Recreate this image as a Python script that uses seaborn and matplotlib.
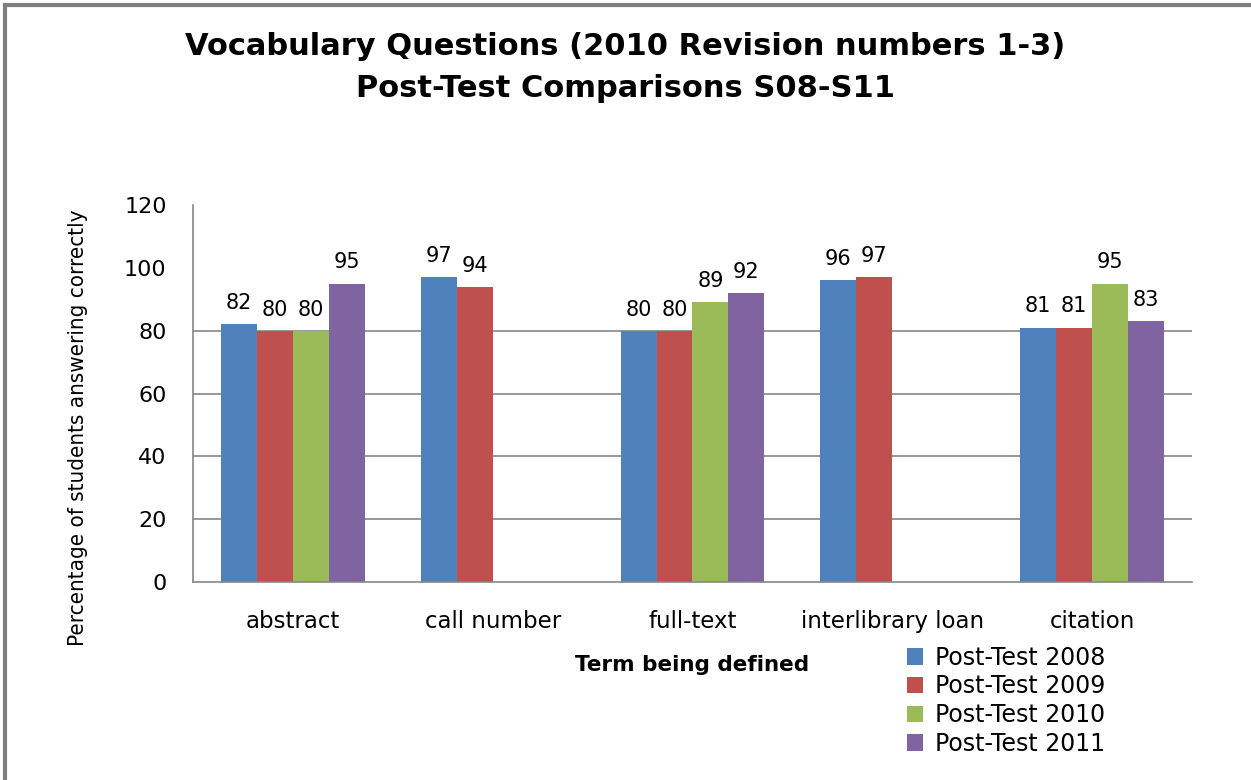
import matplotlib
matplotlib.use("Agg")
import matplotlib.pyplot as plt
import seaborn as sns
import numpy as np
import pandas as pd
from matplotlib.patches import Rectangle

categories = ["abstract", "call number", "full-text", "interlibrary loan", "citation"]
series_names = ["Post-Test 2008", "Post-Test 2009", "Post-Test 2010", "Post-Test 2011"]
v2008 = [82, 97, 80, 96, 81]
v2009 = [80, 94, 80, 97, 81]
v2010 = [80, np.nan, 89, np.nan, 95]
v2011 = [95, np.nan, 92, np.nan, 83]
yticks = [0, 20, 40, 60, 80, 100, 120]
grid_levels = [20, 40, 60, 80]
colors = ["#4F81BD", "#C0504D", "#9BBB59", "#8064A2"]

rows = []
for name, vals in zip(series_names, [v2008, v2009, v2010, v2011]):
    for c, v in zip(categories, vals):
        rows.append({"term": c, "series": name, "value": v})
df = pd.DataFrame(rows)

sns.set_style("white")
plt.rcParams["font.family"] = ["DejaVu Sans"]
plt.rcParams["text.color"] = "black"
plt.rcParams["axes.labelcolor"] = "black"
plt.rcParams["xtick.color"] = "black"
plt.rcParams["ytick.color"] = "black"

fig = plt.figure(figsize=(12.51, 7.8), dpi=100)
ax = fig.add_axes([0.1543, 0.2538, 0.9528 - 0.1543, 0.7372 - 0.2538])

gridc = "#868686"
for g in grid_levels:
    ax.axhline(g, color=gridc, linewidth=1.2, zorder=0)

sns.barplot(data=df, x="term", y="value", hue="series", order=categories,
            hue_order=series_names, palette=colors, width=0.72, ax=ax,
            saturation=1, errorbar=None, linewidth=0, zorder=2)

for cont in ax.containers:
    ax.bar_label(cont, fmt="%.0f", padding=8, fontsize=15, color="black")

ax.set_ylim(0, 120)
ax.set_yticks(yticks)
ax.set_xlim(-0.5, 4.5)
ax.grid(False)
for s in ["top", "right"]:
    ax.spines[s].set_visible(False)
for s in ["left", "bottom"]:
    ax.spines[s].set_color(gridc)
    ax.spines[s].set_linewidth(1.2)
ax.tick_params(axis="y", length=9, width=1.2, color=gridc, labelsize=16, pad=10,
               labelcolor="black")
for t in ax.yaxis.get_major_ticks():
    if t.get_loc() > 80:
        t.tick1line.set_visible(False)
ax.tick_params(axis="x", length=0, labelsize=16.5, pad=20, labelcolor="black")
ax.set_xlabel("Term being defined", fontsize=15.5, fontweight="bold", labelpad=16)
ax.set_ylabel("Percentage of students answering correctly", fontsize=16,
              family="DejaVu Sans", fontstretch="condensed")
ax.yaxis.label.set_va("center")
ax.yaxis.set_label_coords(-0.115, 0.408)

handles, labels = ax.get_legend_handles_labels()
ax.legend(handles, labels, loc="upper left", bbox_to_anchor=(0.705, -0.144),
          frameon=False, fontsize=17, handlelength=0.7, handleheight=0.7,
          labelspacing=0.2, handletextpad=0.5, borderaxespad=0)

fig.text(0.5, 0.94, "Vocabulary Questions (2010 Revision numbers 1-3)",
         ha="center", va="center", fontsize=22, fontweight="bold")
fig.text(0.5, 0.887, "Post-Test Comparisons S08-S11",
         ha="center", va="center", fontsize=22, fontweight="bold")

fig.patches.append(Rectangle((0.004, -0.01), 1.1, 1.004, transform=fig.transFigure,
                             fill=False, edgecolor="#7f7f7f", linewidth=3))

fig.savefig("out.png", dpi=100)
